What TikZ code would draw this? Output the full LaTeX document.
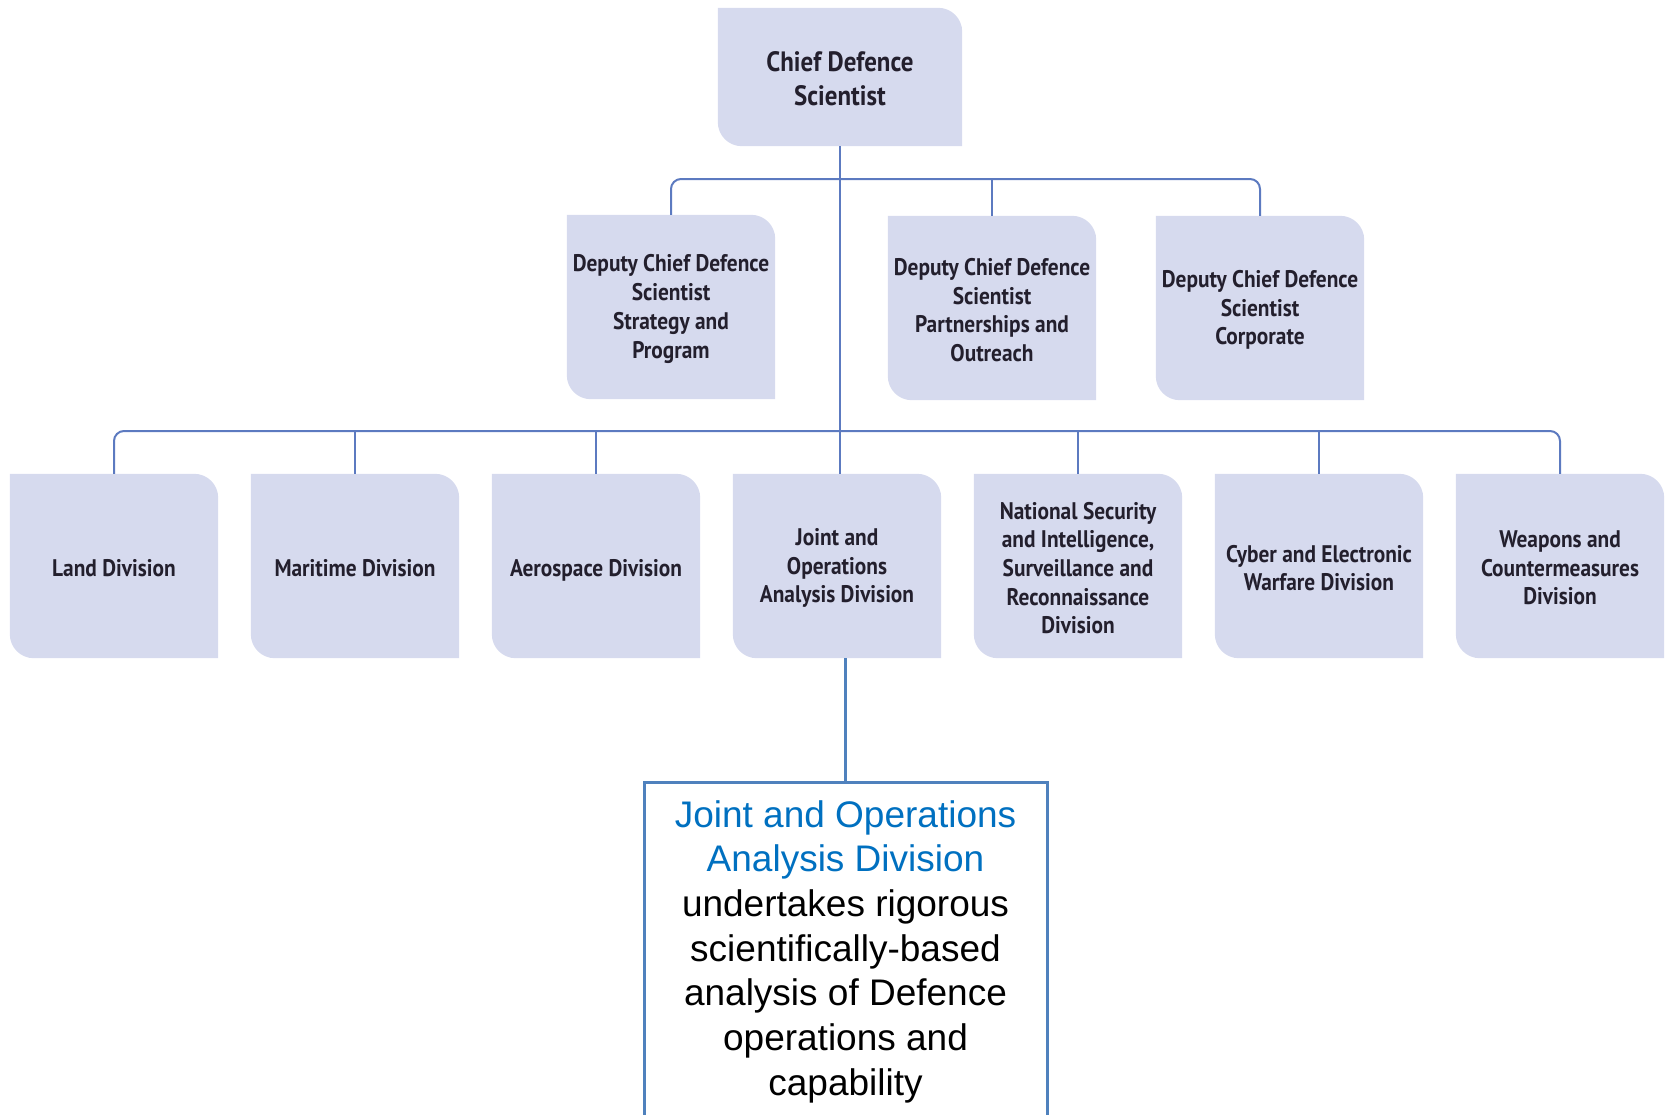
\documentclass[tikz,border=0pt]{standalone}
\usepackage{fontspec}
\setmainfont{Liberation Sans}
\newfontfamily\orgfam[FakeStretch=0.89]{PT Sans}
\usetikzlibrary{backgrounds}
\definecolor{boxfill}{RGB}{214,218,238}
\definecolor{connblue}{RGB}{92,122,192}
\definecolor{frameblue}{RGB}{79,129,189}
\definecolor{txtdark}{RGB}{35,31,45}
\definecolor{headblue}{RGB}{0,112,192}
\tikzset{
  orgbase/.style={inner sep=0pt, align=center, text=txtdark},
  divbox/.style={orgbase, minimum width=208pt, minimum height=184pt,
    font=\orgfam\bfseries\fontsize{24}{28.7}\selectfont},
  chiefbox/.style={orgbase, minimum width=244pt, minimum height=138pt,
    font=\orgfam\bfseries\fontsize{28}{34}\selectfont},
  conn/.style={draw=connblue, line width=2pt},
  descframe/.style={draw=frameblue, line width=3pt, minimum width=403pt, minimum height=500pt, inner sep=0pt},
  desctext/.style={inner sep=0pt, align=center, font=\fontsize{37}{44.7}\selectfont, text=black},
}
\begin{document}
\begin{tikzpicture}[x=1pt,y=1pt]
\useasboundingbox (0,0) rectangle (1669,-1114);
\clip (0,0) rectangle (1669,-1114);
% nodes: text sits 2pt below the centre of its shape
\node[chiefbox] (chief) at (840,-79) {Chief Defence\\Scientist};
\node[divbox] (dcds1) at (671,-309) {Deputy Chief Defence\\Scientist\\Strategy and\\Program};
\node[divbox] (dcds2) at (992,-310) {Deputy Chief Defence\\Scientist\\Partnerships and\\Outreach};
\node[divbox] (dcds3) at (1260,-310) {Deputy Chief Defence\\Scientist\\Corporate};
\node[divbox] (land) at (114,-568) {Land Division};
\node[divbox] (mari) at (355,-568) {Maritime Division};
\node[divbox] (aero) at (596,-568) {\raisebox{0pt}[\height][0pt]{Aerospace Division}};
\node[divbox] (joad) at (837,-568) {Joint and\\Operations\\Analysis Division};
\node[divbox] (nsisr) at (1078,-568) {National Security\\and Intelligence,\\Surveillance and\\Reconnaissance\\Division};
\node[divbox] (cyber) at (1319,-568) {Cyber and Electronic\\Warfare Division};
\node[divbox] (weap) at (1560,-568) {Weapons and\\Countermeasures\\Division};
% background shapes
\begin{scope}[on background layer]
\foreach \n in {chief,dcds1,dcds2,dcds3,land,mari,aero,joad,nsisr,cyber,weap}{
  \fill[boxfill] ([yshift=2pt]\n.north west) -- ([xshift=-24pt,yshift=2pt]\n.north east)
    arc[start angle=90,end angle=0,radius=24pt] -- ([yshift=2pt]\n.south east)
    -- ([xshift=24pt,yshift=2pt]\n.south west)
    arc[start angle=270,end angle=180,radius=24pt] -- cycle;
}
\end{scope}
% connectors
\coordinate (topbar) at (840,-179);
\coordinate (lowbar) at (840,-431);
\draw[conn] ([yshift=2pt]chief.south) -- ([yshift=2pt]chief.south |- joad.north);
\draw[conn, rounded corners=10pt] ([yshift=2pt]dcds1.north) |- (topbar) -| ([yshift=2pt]dcds3.north);
\draw[conn] ([yshift=2pt]dcds2.north) -- (dcds2.north |- topbar);
\draw[conn, rounded corners=10pt] ([yshift=2pt]land.north) |- (lowbar) -| ([yshift=2pt]weap.north);
\foreach \n in {mari,aero,nsisr,cyber}{
  \draw[conn] ([yshift=2pt]\n.north) -- (\n.north |- lowbar);
}
% description box
\node[descframe, anchor=north] (desc) at (845.5,-781) {};
\node[desctext, anchor=north] (desctxt) at (845.5,-800)
  {\textcolor{headblue}{Joint and Operations}\\\textcolor{headblue}{Analysis Division}\\undertakes rigorous\\scientifically-based\\analysis of Defence\\operations and\\capability};
\draw[draw=frameblue, line width=2.5pt] ([yshift=2pt]desc.north |- joad.south) -- (desc.north);
\end{tikzpicture}
\end{document}
